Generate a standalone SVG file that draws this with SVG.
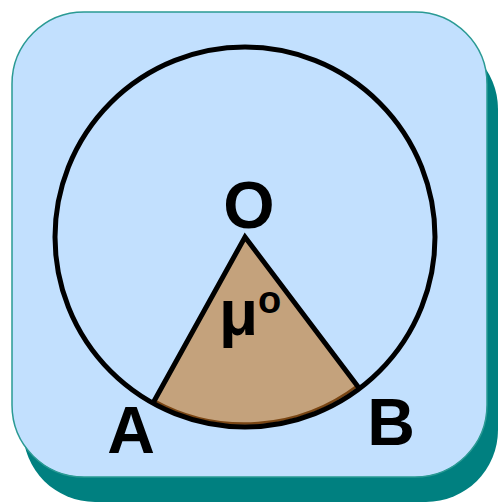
<svg xmlns="http://www.w3.org/2000/svg" width="499" height="503" viewBox="0 0 499 503">
  <style>
    .lbl { font-family: "Liberation Sans", Arial, sans-serif; font-weight: bold; fill: #000; }
    .ink { fill: none; stroke: #000; stroke-width: 5; }
  </style>
  <g id="panel">
    <rect x="23" y="37" width="475" height="465" rx="72" ry="72" fill="#008080"/>
    <rect x="12" y="12" width="475" height="465" rx="72" ry="72" fill="#c2e0fe" stroke="#2a9a94" stroke-width="1.5"/>
  </g>
  <g id="sector">
    <path d="M245 237 L152.9 403.2 A190 190 0 0 0 359 388 Z" fill="#c4a27c"/>
    <path d="M154.5 400.5 A187 187 0 0 0 357.5 385.5" fill="none" stroke="#7a4614" stroke-width="2.5"/>
  </g>
  <g id="circle">
    <circle cx="245" cy="237" r="190" class="ink"/>
  </g>
  <g id="connectors">
    <path d="M152.9 403.2 L245 237 L359 388" class="ink" stroke-linejoin="miter"/>
  </g>
  <g id="label-O"><text class="lbl" x="249" y="228" font-size="66" text-anchor="middle">O</text></g>
  <g id="label-A"><text class="lbl" x="131" y="453" font-size="66" text-anchor="middle">A</text></g>
  <g id="label-B"><text class="lbl" x="391" y="445" font-size="66" text-anchor="middle">B</text></g>
  <g id="label-angle"><text class="lbl" x="219" y="335" font-size="64">μ<tspan x="258" y="313" font-size="38">o</tspan></text></g>
</svg>
